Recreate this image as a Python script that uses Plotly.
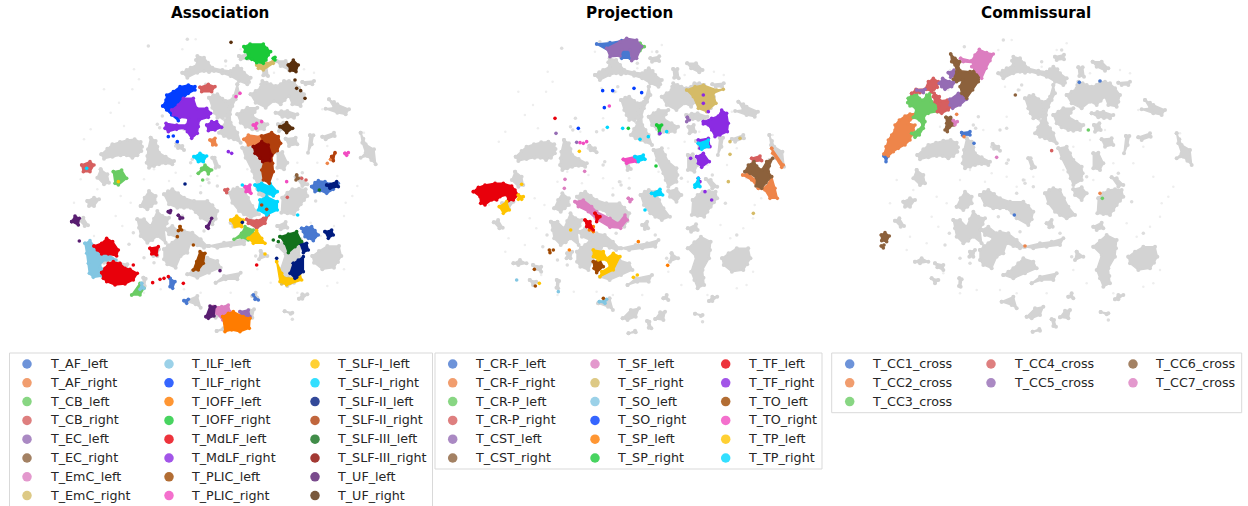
import plotly.graph_objects as go

# ---------- palette (muted, bright, dark) ----------
MUTED = ["#4878D0","#EE854A","#6ACC64","#D65F5F","#956CB4","#8C613C","#DC7EC0","#D5BB67","#82C6E2"]
BRIGHT = ["#023EFF","#FF7C00","#1AC938","#E8000B","#8B2BE2","#9F4800","#F14CC1","#FFC400","#00D7FF"]
DARK = ["#001C7F","#B1400D","#12711C","#8C0800","#591E71","#592F0D"]
PALETTE = MUTED + BRIGHT + DARK

ASSOC_NAMES = ["T_AF_left","T_AF_right","T_CB_left","T_CB_right","T_EC_left","T_EC_right","T_EmC_left","T_EmC_right",
               "T_ILF_left","T_ILF_right","T_IOFF_left","T_IOFF_right","T_MdLF_left","T_MdLF_right","T_PLIC_left","T_PLIC_right",
               "T_SLF-I_left","T_SLF-I_right","T_SLF-II_left","T_SLF-II_right","T_SLF-III_left","T_SLF-III_right","T_UF_left","T_UF_right"]
PROJ_NAMES = ["T_CR-F_left","T_CR-F_right","T_CR-P_left","T_CR-P_right","T_CST_left","T_CST_right",
              "T_SF_left","T_SF_right","T_SO_left","T_SO_right","T_SP_left","T_SP_right",
              "T_TF_left","T_TF_right","T_TO_left","T_TO_right","T_TP_left","T_TP_right"]
COMM_NAMES = ["T_CC1_cross","T_CC2_cross","T_CC3_cross","T_CC4_cross","T_CC5_cross","T_CC6_cross","T_CC7_cross"]

# ---------- unlabelled embedding points (regions, in embedding units) ----------
GRAY = [
 [172,375,190,358,205,345,228,338,250,332,272,330,290,338,294,352,292,365,280,378,265,385,248,378,230,378,205,382,180,388],
 [320,325,335,335,340,352,345,370,365,382,390,395,385,405,365,402,345,405,330,410,315,415,308,400,310,380,312,360],
 [415,130,428,122,440,115,460,105,456,92,460,80,480,85,492,100,505,115,535,122,560,125,570,118,580,110,592,118,600,130,620,145,615,158,610,165,585,155,560,140,535,132,510,125,495,128,480,125,460,130,430,145],
 [620,195,635,185,650,175,652,165,655,155,668,160,680,165,695,170,710,165,720,155,735,155,750,160,765,175,780,195,775,215,770,230,745,225,735,200,722,212,710,225,690,215,665,235,635,220],
 [495,205,508,198,520,195,535,208,545,215,565,210,558,235,548,260,535,265,520,265,512,250,505,235],
 [580,165,585,190,575,210,565,230,558,255,560,280,570,295,580,310,590,340,570,330,555,325,540,320,525,310,535,292,545,275,548,258,550,240,560,220,570,200],
 [580,255,595,245,610,235,640,235,632,248,625,260,650,275,670,285,660,300,640,302,625,300,605,292,590,280],
 [695,250,712,246,730,245,760,255,750,265,732,264,715,262],
 [702,285,718,280,722,300,705,305],
 [698,95,725,95,745,115,735,122,710,110],
 [655,112,668,112,672,140,658,138],
 [585,80,612,74,612,88,590,90],
 [775,158,810,155,805,165,785,165],
 [855,210,870,218,880,225,915,240,905,255,880,250,845,238,870,235],
 [950,310,958,328,965,345,990,360,995,405,982,392,970,380,950,385,965,370,955,340],
 [835,322,870,310,872,320,845,330],
 [798,318,808,318,803,345,792,370],
 [725,328,755,325,760,345,735,350],
 [595,355,620,350,630,370,640,390,665,410,668,430,665,450,640,465,632,445,625,425,605,385],
 [700,370,715,368,730,400,720,420,700,415],
 [505,385,512,385,525,412,515,415],
 [755,442,770,445,790,465,775,470],
 [715,505,730,490,745,480,765,478,785,480,790,500,780,512,770,525,760,540,750,555,730,552,712,550],
 [555,490,568,480,580,475,600,480,612,505,625,530,645,555,620,565,600,555,585,545,565,520],
 [640,478,665,472,680,490,665,510,645,495],
 [290,530,302,505,315,485,335,500,335,520,322,530,310,540],
 [360,495,372,486,385,480,402,492,420,505,450,515,490,515,505,528,520,545,515,568,505,585,470,565,455,548,440,535,420,535,400,535,375,525],
 [280,570,300,570,320,590,330,568,340,545,355,560,375,565,368,582,360,600,365,640,340,620,325,632,310,640,290,620,285,595],
 [365,600,385,590,410,610,400,625,375,615],
 [360,660,372,648,385,640,402,622,420,605,445,610,470,630,490,650,480,655,460,648,440,640,430,670,410,680,395,715,370,705,360,690],
 [430,735,445,725,460,715,475,700,490,685,520,695,530,715,495,730,460,745],
 [495,650,540,640,575,635,610,625,600,645,560,650,520,655],
 [515,760,540,740,590,730,580,750,545,750],
 [700,650,720,632,740,615,770,630,768,655,765,680,745,715,748,738,750,760,730,770,720,745,710,720,725,675],
 [805,680,825,665,850,650,885,650,892,680,882,698,870,715,835,720,810,700],
 [700,590,725,578,730,595,710,600],
 [425,815,460,800,470,835,455,825],
 [500,860,525,835,550,830,540,855,515,865],
 [600,862,615,842,630,840,625,865],
 [765,808,775,795,790,795,775,808],
 [722,846,745,850,740,853],
 [518,905,538,897,540,902],
 [575,868,582,870,588,890,580,888],
 [625,800,635,790,640,805],
 [105,572,118,565,132,588,122,590],
 [170,420,190,435,195,460,180,465,160,445],
 [130,515,150,505,165,510,150,530,135,530],
 [398,342,415,350,420,362,402,356],
 [298,745,305,748,302,770,297,768],
 [165,695,185,685,205,695,180,700],
 [560,580,575,570,578,590,568,592],
 [330,665,345,660,340,680,328,680],
 [650,665,670,680,645,690],
 [225,700,250,705,250,720,232,712],
 [215,745,235,750,225,760],
]

# small gray fragments
SPECK_X = [313,347,430,445,495,515,355,340,420,440,540,605,545,660,775,440,475,485,508,520,232,268,300,330,480,570,850,815,
           745,635,600,680,415,395,255,210,490,470,530]
SPECK_Y = [50,295,30,390,460,395,260,285,300,400,270,60,95,480,430,295,180,165,570,470,750,610,685,700,605,575,610,515,
           870,680,610,440,560,350,645,380,450,490,650]

# faint sparse points
FAINT_X = [200,240,265,285,120,140,110,90,160,230,300,375,395,440,470,495,520,610,640,690,700,760,820,850,880,905,925,940,
           960,900,870,830,800,850,900,880,760,680,640,560,470,420,350,300,250,200,150,140,215,260,235,330,310,370,440,545,
           590,620,780,810,835,735,690,435,480,415,455,225,270,180]
FAINT_Y = [250,290,180,150,330,300,450,520,480,500,450,455,430,440,470,450,440,420,350,330,450,400,400,350,440,520,
           500,470,310,560,590,620,580,770,720,760,790,760,720,790,790,780,780,790,730,640,620,660,560,520,590,420,400,
           300,260,110,60,40,120,130,240,300,130,170,180,60,30,220,120,180]

# ---------- Association: T_AF_left ... T_UF_right (regions; single pairs are isolated points) ----------
A_AF_LEFT = [[815,470,825,458,835,452,855,455,870,462,895,460,880,478,860,490,840,482,825,485],[785,595,800,592,815,590,825,602,835,615,820,632,805,625,795,620,790,605],[390,745,405,755,398,775,390,770],[640,795,655,810,645,808],[432,812,445,808,440,820]]
A_AF_RIGHT = [[510,330,525,325,528,345,518,345],[612,328,625,315,660,320,670,340,640,345,625,345],[872,388,885,370,880,392],[862,400]]
A_CB_LEFT = [[475,430,485,415,495,405,515,420,505,432,495,418],[220,425,245,420,260,445,235,465,225,460],[605,610,615,590,640,600,640,615,625,630,605,622,582,628],[275,795,300,760,312,775,300,795],[488,450]]
A_CB_RIGHT = [[480,172,505,163,525,170,515,185,485,185],[125,405,150,395,162,405,150,425,130,425],[620,568,650,572,670,565,685,555,675,580,650,595,625,580],[555,480,563,478,560,488],[785,445],[798,450],[742,502]]
A_EC_LEFT = [[600,845,625,840,630,860,605,860]]
A_EC_RIGHT = [[770,435,775,445,768,450]]
A_EMC_LEFT = [[520,830,545,830,565,825,570,845,548,870,530,850]]
A_EMC_RIGHT = [[650,105,680,100,700,92,700,100,670,120,655,115],[722,740,745,745,750,760,725,762]]
A_ILF_LEFT = [[135,640,150,632,165,650,185,670,205,672,228,690,200,690,185,695,180,710,195,720,185,738,160,742,148,730,145,700,140,670],[305,760,312,775,300,778]]
A_ILF_RIGHT = [[368,228,378,210,380,195,400,185,420,170,445,165,465,170,465,180,445,190,430,205,425,225,400,240,420,250,415,272,395,255,380,240],[385,320],[400,318],[412,335]]
A_IOFF_LEFT = [[548,860,565,850,580,845,610,860,630,865,628,895,600,905,575,900,555,905]]
A_IOFF_RIGHT = [[612,50,630,42,670,42,680,55,692,65,685,75,678,90,670,100,650,98,635,88,620,85,625,72,615,65],[700,85,705,82,705,90]]
A_MDLF_LEFT = [[162,648,185,640,200,625,218,635,235,660,230,678,205,672,185,672,172,660],[185,728,195,715,205,700,220,695,240,700,255,715,270,718,292,730,280,750,255,762,225,765,200,755,190,745],[330,655,355,650,350,675,335,672],[338,758],[360,748],[372,745],[385,740],[430,760],[650,705],[280,705]]
A_MDLF_RIGHT = [[395,240,415,225,430,205,460,205,470,235,500,235,512,250,505,262,478,270,475,290,472,310,455,325,442,305,435,295,410,298,385,305,375,295,378,280,410,285,440,285,445,265,420,262,400,255],[500,285,515,275,530,275,545,292,525,300,505,302],[565,365],[575,370]]
A_PLIC_LEFT = [[460,720,470,695,480,665,495,670,490,700,475,720],[420,590,425,600,415,602],[412,620],[460,645]]
A_PLIC_RIGHT = [[615,470,630,465,633,490,618,485],[600,190],[588,200],[640,285,650,280,648,295],[665,275],[915,370,925,368,920,376],[740,455]]
A_SLF1_LEFT = [[572,570,590,558,610,570,605,590,585,590],[625,625,650,602,665,625,675,640,640,640],[710,695,725,730,735,745,770,745,780,730,785,750,740,765,720,755],[675,672],[235,455]]
A_SLF1_RIGHT = [[462,380,480,370,500,378,490,395,475,395],[645,465,665,460,690,470,690,460,712,485,700,498,680,490,655,480],[660,510,680,500,712,515,712,540,680,555,655,540],[773,555],[607,465],[140,415]]
A_SLF2_LEFT = [[860,465,890,455,895,470,870,475],[855,605,875,600,880,615,865,625],[780,640,800,640,805,660,790,668],[760,700,775,690,790,680,790,725,765,745,750,730],[607,577],[710,685],[435,462],[770,742]]
A_SLF2_RIGHT = [[665,318,695,308,715,320,722,340,712,362,695,378,698,400,700,425,688,460,670,450,665,420,672,395],[875,380,885,368,880,392],[665,525],[680,538]]
A_SLF3_LEFT = [[720,620,745,612,770,605,785,635,765,650,745,668,735,640],[700,630],[715,635],[838,480]]
A_SLF3_RIGHT = [[640,350,665,335,685,345,695,375,690,392,668,395,660,385,645,370]]
A_UF_LEFT = [[95,575,105,558,118,565,115,585],[498,860,510,828,525,830,522,858,505,865],[500,590,515,565,505,595],[385,545,392,542,390,548],[415,556,428,564,420,566],[540,722],[118,633]]
A_UF_RIGHT = [[745,105,760,90,775,105,768,125,750,122],[765,150],[770,175],[782,182],[795,205],[720,290,740,278,758,295,740,308],[573,37]]
ASSOC_SERIES = [A_AF_LEFT,A_AF_RIGHT,A_CB_LEFT,A_CB_RIGHT,A_EC_LEFT,A_EC_RIGHT,A_EMC_LEFT,A_EMC_RIGHT,
                A_ILF_LEFT,A_ILF_RIGHT,A_IOFF_LEFT,A_IOFF_RIGHT,A_MDLF_LEFT,A_MDLF_RIGHT,A_PLIC_LEFT,A_PLIC_RIGHT,
                A_SLF1_LEFT,A_SLF1_RIGHT,A_SLF2_LEFT,A_SLF2_RIGHT,A_SLF3_LEFT,A_SLF3_RIGHT,A_UF_LEFT,A_UF_RIGHT]

# ---------- Projection ----------
P_CRF_LEFT = [[440,42,480,38,515,32,530,40,490,55,480,65],[515,60,540,60,540,85,515,85]]
P_CRF_RIGHT = [[878,435,895,430,915,450,925,475,950,470,965,440,975,475,982,505,960,505,945,480,925,475,905,450],[965,355,1000,405,995,412,968,370]]
P_CRP_LEFT = [[570,40,583,50,570,62]]
P_CRP_RIGHT = [[905,385,930,378,935,392,910,395]]
P_CST_LEFT = [[470,55,510,35,530,25,560,30,575,50,560,85,545,92,540,60,515,60,510,78,480,80],[318,310],[380,337],[628,312],[712,262,718,270,710,275]]
P_CST_RIGHT = [[885,425,895,405,912,395,920,408,935,420,950,395,968,385,958,408,955,425,965,440,948,458,935,475,918,468,920,445,900,430]]
P_SF_LEFT = [[375,515,400,510,425,530,440,545,480,565,505,580,525,555,532,570,512,595,480,592,440,568,415,545,385,530],[535,505,545,508,540,515],[345,448],[343,475],[404,424]]
P_SF_RIGHT = [[710,180,735,170,760,165,800,180,820,178,790,190,798,220,770,245,745,235,730,200],[840,335],[870,325],[840,373],[835,455],[910,550]]
P_SO_LEFT = [[448,815,470,808,465,820],[200,750],[325,785]]
P_SO_RIGHT = [[385,295],[463,233],[458,182],[488,182],[552,175],[575,188]]
P_SP_LEFT = [[415,585,430,590,430,605,418,600],[358,660],[653,706],[565,635]]
P_SP_RIGHT = [[620,285,635,285,628,305],[535,295],[618,408]]
P_TF_LEFT = [[70,485,85,472,105,465,135,460,160,460,185,468,195,480,205,495,190,510,175,512,170,495,150,500,140,510,125,510,105,525,92,520,90,500],[405,570,420,575,430,600,410,590],[435,550,450,560,440,575],[315,265]]
P_TF_RIGHT = [[760,275,785,265,805,258,815,240,830,250,835,280,832,305,810,315,795,320,785,300,775,285,760,282],[745,330,775,325,780,350,750,355],[740,380,760,370,778,395,755,412,745,400],[760,195],[760,220],[775,245],[785,510],[765,485],[722,385],[630,310],[745,445,750,455,742,460]]
P_TO_LEFT = [[430,695,450,690,460,710,440,728,432,715],[298,660],[310,660],[300,668],[253,718],[256,768],[460,805]]
P_TO_RIGHT = [[520,388,555,380,560,395,530,400],[400,340],[410,335],[390,338],[478,228]]
P_TP_LEFT = [[205,495,220,500,215,508,205,508],[148,530,170,515,178,540,160,550],[430,660,460,665,470,685,490,670,510,680,490,720,450,740,455,725,480,710,470,690,445,690,430,680],[215,463],[388,364],[268,760],[550,742],[562,735],[362,600]]
P_TP_RIGHT = [[745,340,775,330,775,350,755,358],[735,465,745,445,750,470,735,472],[605,490,630,478,638,495,615,497],[555,380,580,375,585,388,565,395],[472,292],[518,295],[570,328],[595,320],[650,305],[585,540]]
PROJ_SERIES = [P_CRF_LEFT,P_CRF_RIGHT,P_CRP_LEFT,P_CRP_RIGHT,P_CST_LEFT,P_CST_RIGHT,P_SF_LEFT,P_SF_RIGHT,P_SO_LEFT,P_SO_RIGHT,
               P_SP_LEFT,P_SP_RIGHT,P_TF_LEFT,P_TF_RIGHT,P_TO_LEFT,P_TO_RIGHT,P_TP_LEFT,P_TP_RIGHT]

# ---------- Commissural ----------
C_CC1 = [[72,378,85,378,78,395],[305,308,330,305,330,315,308,316],[658,157],[720,153],[463,555],[342,340]]
C_CC2 = [[72,372,78,350,85,330,95,315,105,300,105,285,118,270,135,258,150,252,170,250,165,262,150,270,145,280,165,285,160,300,155,315,150,330,135,345,115,355,100,365,85,378],[290,253],[312,320],[720,490],[495,648]]
C_CC3 = [[145,205,155,195,170,192,178,205,190,210,200,195,210,190,215,215,225,220,235,235,232,245,205,250,192,258,195,275,190,295,178,315,165,322,155,310,175,300,188,285,178,270,160,262,168,248,165,232,150,228,143,218],[685,300],[727,505]]
C_CC4 = [[155,190,168,178,195,178,205,155,220,145,235,155,232,172,222,178,215,185,200,178,180,188],[222,190,238,200,240,212,262,210,280,208,278,225,265,240,245,250,232,245,236,230,225,215,220,200],[575,362]]
C_CC5 = [[270,208,295,190,310,192,320,208,300,225,278,235,270,225],[238,160,248,145,268,155,290,152,275,170,255,178,245,170],[265,128,282,120,290,135,272,142],[170,180,195,178,190,188]]
C_CC6 = [[272,72,285,85,300,95,295,115,300,122,330,125,345,120,365,132,355,155,338,180,320,205,305,190,300,170,308,150,290,155,280,148,290,125,285,105,275,95],[258,262,272,262,278,272,282,285,268,292,262,305,255,300,260,280],[64,615,75,608,88,618,80,635,65,632],[64,648,72,645,70,654],[466,195]]
C_CC7 = [[302,85,335,92,345,75,358,58,380,68,400,72,390,92,378,115,365,145,352,125,335,110,340,98,310,95],[280,272,292,275,285,284],[410,382]]
COMM_SERIES = [C_CC1,C_CC2,C_CC3,C_CC4,C_CC5,C_CC6,C_CC7]

# ---------- layout ----------
W, H = 1248, 506
PANELS = [
    dict(title="Association", names=ASSOC_NAMES, series=ASSOC_SERIES, left=40, title_x=220, gray=(1.0, 12, -2),
         box=(9.5, 353, 432.5, 520), rows=[8,8,8], mx=[27,169,315], tx=[48,189,335]),
    dict(title="Projection", names=PROJ_NAMES, series=PROJ_SERIES, left=450, title_x=629, gray=(0.978, 29, 5),
         box=(435, 353, 822, 469), rows=[6,6,6], mx=[452.7,595,725.7], tx=[473,615,746]),
    dict(title="Commissural", names=COMM_NAMES, series=COMM_SERIES, left=860, title_x=1036, gray=(1.0, 0, 0),
         box=(831.7, 353, 1241.7, 412.7), rows=[3,2,2], mx=[849.7,991,1133], tx=[869.7,1012,1153]),
]

def expand(paths, scale=1.0, dx=0.0, dy=0.0):
    xs, ys = [], []
    for p in paths:
        for i in range(0, len(p), 2):
            xs.append(p[i] * scale + dx)
            ys.append(p[i + 1] + dy)
        if len(p) > 2:
            xs.append(p[0] * scale + dx)
            ys.append(p[1] + dy)
        xs.append(None)
        ys.append(None)
    return xs, ys

fig = go.Figure()
annotations, shapes = [], []
layout_axes = {}
ROW0, ROW_STEP = 364, 18.8
LEGEND_ALPHA = 0.8

for k, panel in enumerate(PANELS):
    ax = "" if k == 0 else str(k + 1)
    xa, ya = f"x{ax}", f"y{ax}"
    left = panel["left"]
    layout_axes[f"xaxis{ax}"] = dict(domain=[left / W, (left + 360) / W], range=[0, 1080], visible=False, fixedrange=True)
    layout_axes[f"yaxis{ax}"] = dict(domain=[(H - 340) / H, (H - 30) / H], range=[930, 0], visible=False, fixedrange=True)
    s, dx, dy = panel["gray"]
    fig.add_trace(go.Scatter(x=[v * s + dx for v in FAINT_X], y=[v + dy for v in FAINT_Y], xaxis=xa, yaxis=ya, mode="markers",
                             marker=dict(size=2.5, color="#eeeeee"), showlegend=False, hoverinfo="skip"))
    fig.add_trace(go.Scatter(x=[v * s + dx for v in SPECK_X], y=[v + dy for v in SPECK_Y], xaxis=xa, yaxis=ya, mode="markers",
                             marker=dict(size=3.5, color="#dddddd"), showlegend=False, hoverinfo="skip"))
    gx, gy = expand(GRAY, s, dx, dy)
    fig.add_trace(go.Scatter(x=gx, y=gy, xaxis=xa, yaxis=ya, mode="lines+markers", fill="toself", fillcolor="#d3d3d3",
                             line=dict(color="#d3d3d3", width=1.5), marker=dict(size=4, color="#d3d3d3"), name="unlabelled",
                             showlegend=False, hoverinfo="skip"))
    for i, (name, paths) in enumerate(zip(panel["names"], panel["series"])):
        col = PALETTE[i]
        x, y = expand(paths)
        fig.add_trace(go.Scatter(x=x, y=y, xaxis=xa, yaxis=ya, mode="lines+markers", fill="toself", fillcolor=col,
                                 line=dict(color=col, width=1.5), marker=dict(size=3.6, color=col),
                                 name=name, showlegend=False, hoverinfo="name"))
    annotations.append(dict(text=f"<b>{panel['title']}</b>", x=panel["title_x"] / W, y=1 - 13 / H, xref="paper", yref="paper",
                            xanchor="center", yanchor="middle", showarrow=False,
                            font=dict(family="DejaVu Sans", size=15.2, color="#000000")))
    x0, y0, x1, y1 = panel["box"]
    shapes.append(dict(type="rect", xref="paper", yref="paper", x0=x0 / W, x1=x1 / W, y0=1 - y0 / H, y1=1 - y1 / H,
                       line=dict(color="#d9d9d9", width=1), fillcolor="rgba(0,0,0,0)", layer="below"))
    # legend keys drawn on a full-figure axis, filled column by column
    idx = 0
    for c, n_rows in enumerate(panel["rows"]):
        for r in range(n_rows):
            name = panel["names"][idx]
            px, py = panel["mx"][c], ROW0 + r * ROW_STEP
            fig.add_trace(go.Scatter(x=[px], y=[py], xaxis="x4", yaxis="y4", mode="markers",
                                     marker=dict(size=9.5, color=PALETTE[idx], opacity=LEGEND_ALPHA), name=name,
                                     showlegend=False, hoverinfo="skip"))
            annotations.append(dict(text=name, x=panel["tx"][c] / W, y=1 - (py - 0.5) / H, xref="paper", yref="paper",
                                    xanchor="left", yanchor="middle", showarrow=False,
                                    font=dict(family="DejaVu Sans", size=12.7, color="#262626")))
            idx += 1

layout_axes["xaxis4"] = dict(domain=[0, 1], range=[0, W], visible=False, fixedrange=True)
layout_axes["yaxis4"] = dict(domain=[0, 1], range=[H, 0], visible=False, fixedrange=True)

fig.update_layout(width=W, height=H, margin=dict(l=0, r=0, t=0, b=0), paper_bgcolor="white", plot_bgcolor="rgba(0,0,0,0)",
                  showlegend=False, annotations=annotations, shapes=shapes, **layout_axes)
fig.write_html("out.html", config=dict(displayModeBar=False), post_script="document.body.style.margin='0';")
